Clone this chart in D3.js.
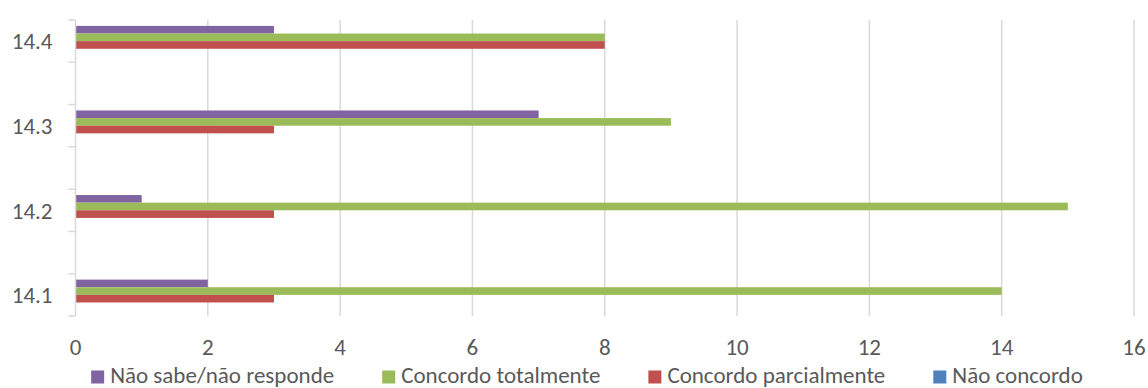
<!DOCTYPE html>
<html>
<head>
<meta charset="utf-8">
<script src="https://cdn.jsdelivr.net/npm/d3@7"></script>
<style>
  html, body { margin: 0; padding: 0; background: #fff; }
  svg { display: block; }
  text { font-family: Carlito, Calibri, Lato, "Open Sans", sans-serif; fill: #595959; }
</style>
</head>
<body>
<svg id="chart" width="1148" height="388"></svg>
<script>
// ---- data ----
const categories = ["14.1", "14.2", "14.3", "14.4"];
const seriesNames = ["Não sabe/não responde", "Concordo totalmente", "Concordo parcialmente", "Não concordo"];
const naoSabe = [2, 1, 7, 3];
const concordoTotalmente = [14, 15, 9, 8];
const concordoParcialmente = [3, 3, 3, 8];
const naoConcordo = [0, 0, 0, 0];
const xTicks = [0, 2, 4, 6, 8, 10, 12, 14, 16];
const seriesColors = ["#8064A2", "#9BBB59", "#C0504D", "#4F81BD"];

const seriesValues = [naoSabe, concordoTotalmente, concordoParcialmente, naoConcordo];

(function () {
const svg = d3.select("#chart");
const pLeft = 75.5, pRight = 1134, pTop = 20, pBottom = 316;
const fontSize = 23;

const x = d3.scaleLinear().domain([0, 16]).range([pLeft, pRight]);

// slots: categories from top (last first) with blank spacer slots in between
const slots = [];
categories.slice().reverse().forEach((c, i) => {
  if (i > 0) slots.push("gap" + i);
  slots.push(c);
});
const pIn = 0.279;
const y = d3.scaleBand().domain(slots).range([pTop, pBottom]).paddingInner(pIn).paddingOuter(pIn / 2);
const step = y.step();
const yInner = d3.scaleBand().domain(seriesNames).range([0, y.bandwidth()]);

// gridlines
svg.append("g").selectAll("line").data(xTicks.filter(d => d > 0)).join("line")
  .attr("x1", d => x(d)).attr("x2", d => x(d))
  .attr("y1", pTop).attr("y2", pBottom)
  .attr("stroke", "#D9D9D9").attr("stroke-width", 1.5);

// bars
const rows = [];
categories.forEach((c, ci) => {
  seriesNames.forEach((s, si) => {
    rows.push({ cat: c, series: s, value: seriesValues[si][ci], color: seriesColors[si] });
  });
});
svg.append("g").selectAll("rect").data(rows).join("rect")
  .attr("x", x(0))
  .attr("y", d => y(d.cat) + yInner(d.series))
  .attr("width", d => x(d.value) - x(0))
  .attr("height", yInner.bandwidth())
  .attr("fill", d => d.color);

// left axis line and ticks
const ax = svg.append("g");
ax.append("line").attr("x1", pLeft).attr("x2", pLeft).attr("y1", pTop).attr("y2", pBottom)
  .attr("stroke", "#D9D9D9").attr("stroke-width", 1.5);
ax.selectAll("line.tick").data(d3.range(slots.length + 1)).join("line")
  .attr("class", "tick")
  .attr("x1", pLeft - 7).attr("x2", pLeft)
  .attr("y1", i => pTop + i * step).attr("y2", i => pTop + i * step)
  .attr("stroke", "#D9D9D9").attr("stroke-width", 1.5);

// category labels
svg.append("g").selectAll("text").data(categories).join("text")
  .attr("x", 52.5)
  .attr("y", d => y(d) + y.bandwidth() / 2)
  .attr("dy", "0.36em")
  .attr("text-anchor", "end")
  .attr("font-size", fontSize)
  .text(d => d);

// x tick labels
svg.append("g").selectAll("text").data(xTicks).join("text")
  .attr("x", d => x(d))
  .attr("y", 354.5)
  .attr("text-anchor", "middle")
  .attr("font-size", fontSize)
  .text(d => d);

// legend
const lg = svg.append("g");
const items = lg.selectAll("g").data(seriesNames).join("g");
items.append("rect").attr("width", 13).attr("height", 13).attr("y", 370.5)
  .attr("fill", (d, i) => seriesColors[i]);
items.append("text").attr("x", 19).attr("y", 383).attr("font-size", fontSize).text(d => d);
const widths = [];
items.each(function () { widths.push(this.querySelector("text").getComputedTextLength() + 19); });
const gapL = 48;
const total = d3.sum(widths) + gapL * (widths.length - 1);
let cx = 587 - total / 2;
items.attr("transform", (d, i) => {
  const t = `translate(${cx},0)`;
  cx += widths[i] + gapL;
  return t;
});
})();
</script>
</body>
</html>
